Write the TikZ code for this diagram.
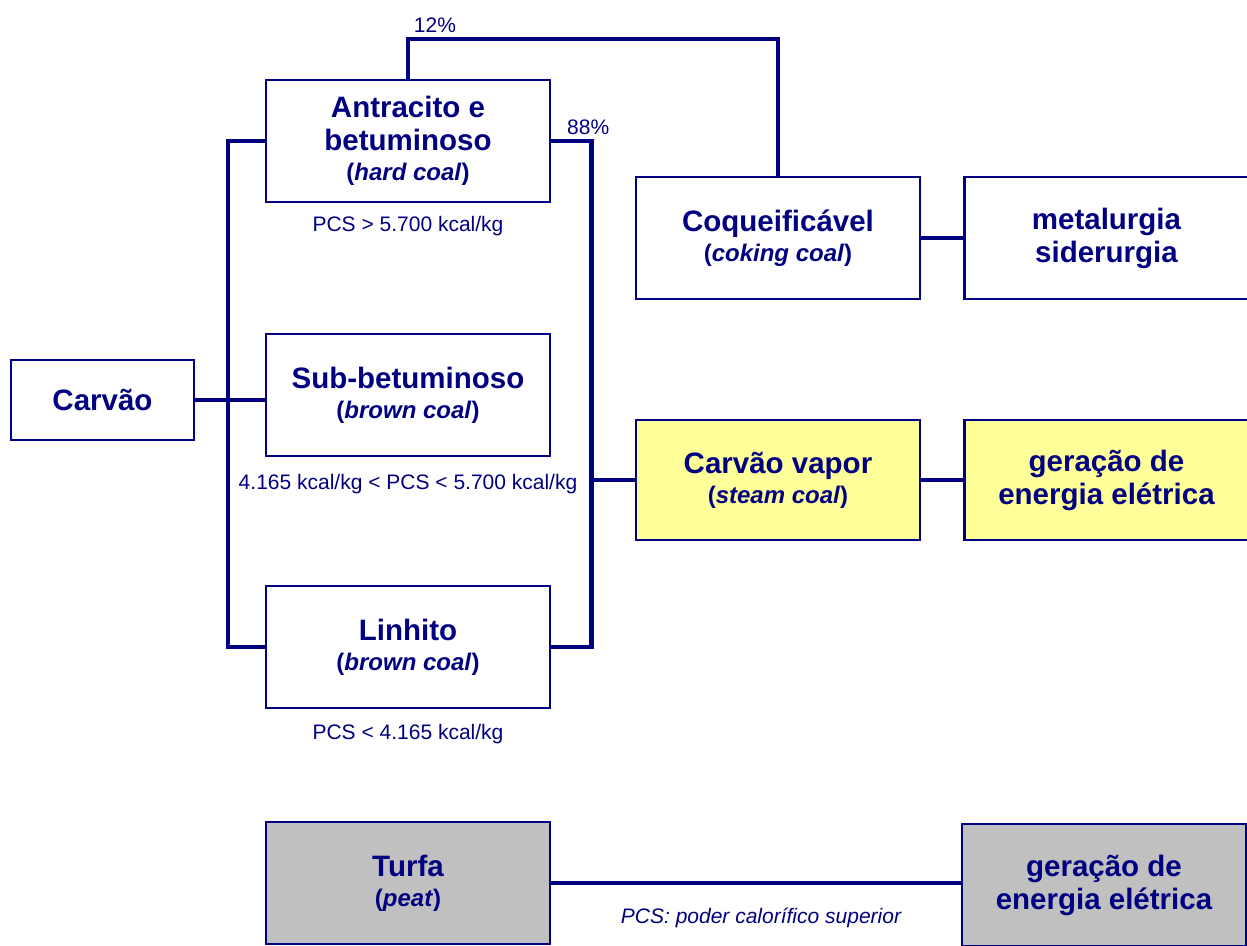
\documentclass[tikz,border=0pt]{standalone}
\usepackage{fontspec}
\setmainfont{Liberation Sans}
\usepackage{tikz}
\usetikzlibrary{positioning, calc}

\definecolor{navy}{RGB}{0,0,128}
\definecolor{steamfill}{RGB}{255,255,153}
\definecolor{peatfill}{RGB}{192,192,192}

\newcommand{\coaltype}[1]{\\[-3pt]{\fontsize{24}{28}\selectfont(\textit{#1})}}

\begin{document}
\begin{tikzpicture}[
        x=1pt, y=-1pt,
        node distance=42pt and 42pt,
        % Styles
        coalbox/.style={rectangle, draw=navy, line width=2.5pt, fill=white, text=navy,
                minimum width=284pt, minimum height=122pt, align=center,
                font=\fontsize{29.5}{33}\selectfont\bfseries},
        steambox/.style={coalbox, fill=steamfill, minimum height=120pt},
        peatbox/.style={coalbox, fill=peatfill},
        link/.style={draw=navy, line width=4.5pt},
        pcslab/.style={text=navy, font=\fontsize{21}{25}\selectfont, inner sep=1pt},
        ]

        \useasboundingbox (0,0) rectangle (1247,945);

        % === SOURCE ===
        \node[coalbox, minimum width=183pt, minimum height=80pt] (carvao) at (102.5,400) {Carvão};

        % === COAL RANKS (middle column) ===
        \node[coalbox] (antracito) at (408,141) {Antracito e\\betuminoso\coaltype{hard coal}};
        \node[coalbox] (subbet) at (408,395) {Sub-betuminoso\coaltype{brown coal}};
        \node[coalbox] (linhito) at (408,647) {Linhito\coaltype{brown coal}};

        \node[pcslab, below=12pt of antracito] (pcs1) {PCS > 5.700 kcal/kg};
        \node[pcslab, below=16pt of subbet] (pcs2) {4.165 kcal/kg < PCS < 5.700 kcal/kg};
        \node[pcslab, below=14pt of linhito] (pcs3) {PCS < 4.165 kcal/kg};

        % === USES (right columns) ===
        \node[coalbox] (coque) at (778,238) {Coqueificável\coaltype{coking coal}};
        \node[coalbox, right=of coque] (metal) {metalurgia\\siderurgia};

        \node[steambox] (vapor) at (778,480) {Carvão vapor\coaltype{steam coal}};
        \node[steambox, right=of vapor] (geracao) {geração de\\energia elétrica};

        % === PEAT ===
        \node[peatbox] (turfa) at (408,883) {Turfa\coaltype{peat}};
        \node[peatbox] (geracaoturfa) at (1104,885) {geração de\\energia elétrica};

        % Left bus
        \draw[link] (antracito.west) -- ++(-37,0) coordinate (busL) |- (linhito.west);
        \draw[link] (carvao.east) -- (carvao.east -| subbet.west);

        % Right bus
        \draw[link] (antracito.east) -- ++(40,0) coordinate (busR) |- (linhito.east);
        \draw[link] (vapor.west -| busR) -- (vapor.west);

        % 12% branch to coking coal
        \draw[link] (antracito.north) -- ++(0,-40) coordinate (topL) -| (coque.north);
        \node[pcslab, anchor=south] (p12) at ($(topL)+(27,-5)$) {12\%};
        \node[pcslab, anchor=south] (p88) at ($(busR)+(-3,-5)$) {88\%};

        % Uses
        \draw[link] (coque) -- (metal);
        \draw[link] (vapor) -- (geracao);
        \draw[link] (turfa.east) -- (turfa.east -| geracaoturfa.west);

        \node[pcslab, font=\fontsize{21}{25}\selectfont\itshape] (pcsnote) at (761,918) {PCS: poder calorífico superior};

    \end{tikzpicture}
\end{document}
